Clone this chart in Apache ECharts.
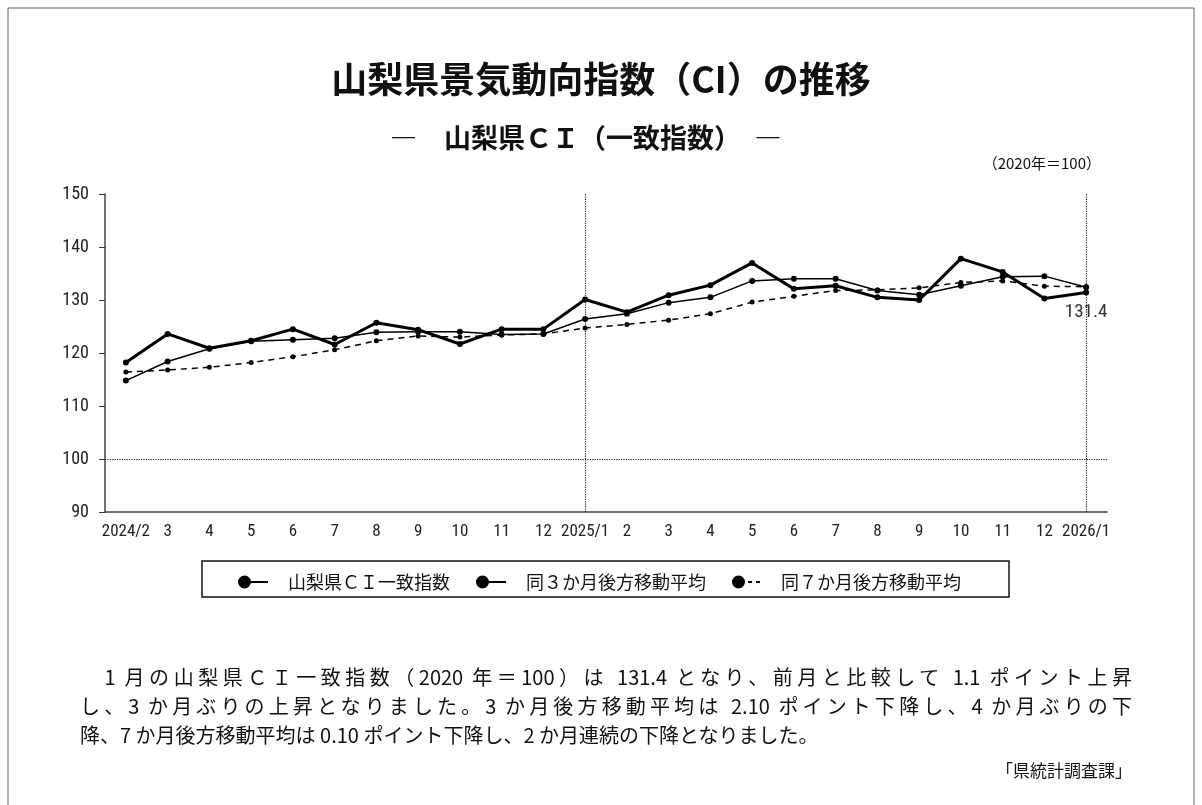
<!DOCTYPE html>
<html>
<head>
<meta charset="utf-8">
<title>山梨県景気動向指数（CI）の推移</title>
<script src="https://cdn.jsdelivr.net/npm/echarts@6.0.0/dist/echarts.min.js"></script>
<style>
  html, body { margin: 0; padding: 0; background: #fff; }
  #wrap { position: relative; width: 1202px; height: 805px; }
  #chart { width: 1202px; height: 805px; }
  #note {
    position: absolute; left: 80px; top: 662px; width: 1052px;
    font-family: "Noto Sans CJK JP", "Noto Sans", sans-serif;
    font-size: 20px; line-height: 29px; color: #111;
  }
  #note div { white-space: nowrap; }
  #note .just { text-align: justify; text-align-last: justify; white-space: normal; }
</style>
</head>
<body>
<div id="wrap">
  <div id="chart"></div>
  <div id="note"></div>
</div>
<script>
// 月（横軸）
const months = ['2024/2', '3', '4', '5', '6', '7', '8', '9', '10', '11', '12',
  '2025/1', '2', '3', '4', '5', '6', '7', '8', '9', '10', '11', '12', '2026/1']

// 山梨県CI一致指数
const ciValues = [118.2, 123.6, 120.9, 122.3, 124.5, 121.6, 125.7, 124.4, 121.7, 124.5, 124.5,
  130.1, 127.7, 130.9, 132.8, 137.0, 132.1, 132.7, 130.5, 130.0, 137.8, 135.3, 130.3, 131.4]

// 同3か月後方移動平均
const ma3Values = [114.8, 118.4, 120.8, 122.2, 122.5, 122.8, 123.9, 124.0, 124.0, 123.5, 123.6,
  126.4, 127.4, 129.5, 130.5, 133.6, 134.0, 134.0, 131.8, 131.0, 132.7, 134.4, 134.5, 132.4]

// 同7か月後方移動平均
const ma7Values = [116.4, 116.8, 117.3, 118.2, 119.3, 120.6, 122.3, 123.2, 123.0, 123.4, 123.6,
  124.7, 125.4, 126.2, 127.4, 129.6, 130.7, 131.8, 131.9, 132.3, 133.3, 133.6, 132.6, 132.5]

const seriesNames = ['山梨県ＣＩ一致指数', '同３か月後方移動平均', '同７か月後方移動平均']

// 本文（1・2行目は両端揃え）
const noteLines = [
  '　1 月の山梨県ＣＩ一致指数（2020 年＝100）は 131.4 となり、前月と比較して 1.1 ポイント上昇',
  'し、3 か月ぶりの上昇となりました。3 か月後方移動平均は 2.10 ポイント下降し、4 か月ぶりの下',
  '降、7 か月後方移動平均は 0.10 ポイント下降し、2 か月連続の下降となりました。'
]

const jpFont = '"Noto Sans CJK JP", "Noto Sans", sans-serif'
const narrowFont = '"Liberation Sans Narrow", "Roboto Condensed", "Liberation Sans", sans-serif'

// 凡例アイコン（●― と ●- -）
const iconSolid = 'path://M0,6.5 A6.5,6.5 0 1,1 13,6.5 A6.5,6.5 0 1,1 0,6.5 Z M12,5.5 L30,5.5 L30,7.5 L12,7.5 Z'
const iconDash = 'path://M0,6.5 A6.5,6.5 0 1,1 13,6.5 A6.5,6.5 0 1,1 0,6.5 Z M16,5.5 L20,5.5 L20,7.5 L16,7.5 Z M24,5.5 L28,5.5 L28,7.5 L24,7.5 Z'

const note = document.getElementById('note')
noteLines.forEach((line, i) => {
  const div = document.createElement('div')
  div.textContent = line
  if (i < noteLines.length - 1) div.className = 'just'
  note.appendChild(div)
})

const chart = echarts.init(document.getElementById('chart'))

const lastIdx = ciValues.length - 1
const ciData = ciValues.map((v, i) => i === lastIdx
  ? { value: v, label: { show: true, position: 'bottom', distance: 7, formatter: '{c}',
      color: '#333', fontSize: 19, fontFamily: narrowFont } }
  : v)

chart.setOption({
  backgroundColor: '#fff',
  animation: false,
  title: [
    {
      text: '山梨県景気動向指数（CI）の推移',
      left: 'center', top: 56,
      textStyle: { fontFamily: jpFont, fontSize: 36, fontWeight: 'bold', color: '#111' }
    },
    {
      text: '―　山梨県ＣＩ（一致指数）　―',
      left: 385, top: 119,
      textStyle: { fontFamily: jpFont, fontSize: 27, fontWeight: 'bold', color: '#111' }
    },
    {
      text: '（2020年＝100）',
      right: 96, top: 151,
      textStyle: { fontFamily: jpFont, fontSize: 15, fontWeight: 'normal', color: '#111' }
    }
  ],
  legend: {
    left: 233, top: 568,
    itemWidth: 30, itemHeight: 13,
    itemGap: 26,
    data: [
      { name: seriesNames[0], icon: iconSolid },
      { name: seriesNames[1], icon: iconSolid },
      { name: seriesNames[2], icon: iconDash }
    ],
    textStyle: { fontFamily: jpFont, fontSize: 18, color: '#111', padding: [0, 0, 0, 15] },
    selectedMode: false
  },
  grid: { left: 105, right: 95, top: 194, bottom: 293 },
  xAxis: {
    type: 'category',
    data: months,
    boundaryGap: true,
    axisLine: { lineStyle: { color: '#444', width: 1.5 } },
    axisTick: { alignWithLabel: true, interval: 0, length: 6, lineStyle: { color: '#333' } },
    axisLabel: { interval: 0, margin: 11, color: '#222', fontSize: 17, fontFamily: narrowFont }
  },
  yAxis: {
    type: 'value',
    min: 90, max: 150, interval: 10,
    axisLine: { show: true, lineStyle: { color: '#444', width: 1.5 } },
    axisTick: { show: true, length: 6, lineStyle: { color: '#333' } },
    axisLabel: { margin: 16, color: '#222', fontSize: 18, fontFamily: narrowFont },
    splitLine: { show: false }
  },
  series: [
    {
      name: seriesNames[0],
      type: 'line',
      data: ciData,
      symbol: 'circle', symbolSize: 6,
      itemStyle: { color: '#000' },
      lineStyle: { color: '#000', width: 3 },
      z: 4,
      markLine: {
        silent: true,
        symbol: 'none',
        label: { show: false },
        lineStyle: { color: '#222', type: 'dotted', width: 1.2 },
        data: [{ xAxis: 11 }, { xAxis: 23 }, { yAxis: 100 }]
      }
    },
    {
      name: seriesNames[1],
      type: 'line',
      data: ma3Values,
      symbol: 'circle', symbolSize: 6,
      itemStyle: { color: '#000' },
      lineStyle: { color: '#000', width: 1.5 },
      z: 3
    },
    {
      name: seriesNames[2],
      type: 'line',
      data: ma7Values,
      symbol: 'circle', symbolSize: 5,
      itemStyle: { color: '#000' },
      lineStyle: { color: '#000', width: 1.5, type: [6, 5] },
      z: 2
    }
  ],
  graphic: [
    {
      type: 'rect', silent: true, z: -1,
      shape: { x: 8, y: 8, width: 1186, height: 820 },
      style: { fill: 'none', stroke: '#666', lineWidth: 1 }
    },
    {
      type: 'rect', silent: true,
      shape: { x: 202, y: 561, width: 807, height: 36 },
      style: { fill: 'none', stroke: '#111', lineWidth: 1.5 }
    },
    {
      type: 'text', right: 70, top: 762,
      style: { text: '「県統計調査課」', fill: '#111', font: '17px ' + jpFont }
    }
  ]
})
</script>
</body>
</html>
